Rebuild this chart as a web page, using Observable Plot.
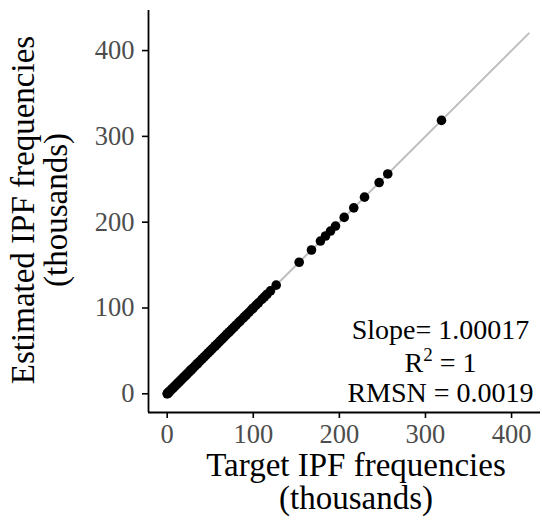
<!DOCTYPE html>
<html>
<head>
<meta charset="utf-8">
<script src="https://cdn.jsdelivr.net/npm/d3@7"></script>
<script src="https://cdn.jsdelivr.net/npm/@observablehq/plot@0.6"></script>
<style>
  html, body { margin: 0; padding: 0; background: #fff; }
  svg text { font-family: 'Liberation Serif', 'Times New Roman', serif !important; }
</style>
</head>
<body>
<div id="chart"></div>
<script>
// Target IPF frequencies (thousands)
const target = [0, 0.3, 0.6, 1, 1.5, 2, 2.5, 3, 4, 5, 6, 7, 8, 9, 10, 11, 12, 13, 14, 15,
  16, 17, 18, 19, 20, 21, 22, 23, 24, 25, 26, 27, 28, 29, 30, 32, 33, 35, 36, 38,
  40, 41, 43, 45, 47, 48, 50, 52, 54, 56, 58, 60, 62, 64, 66, 68, 70, 72, 74, 76,
  78, 80, 83, 85, 88, 90, 92, 95, 98, 100, 103, 106, 110, 113, 116, 120, 126.6,
  153.3, 167.6, 178.0, 183.9, 189.7, 195.5, 205.6, 216.7, 229.2, 246.2, 256.2, 318.6];
// Estimated IPF frequencies (thousands)
const estimated = [0, 0.3, 0.6, 1, 1.5, 2, 2.5, 3, 4, 5, 6, 7, 8, 9, 10, 11, 12, 13, 14, 15,
  16, 17, 18, 19, 20, 21, 22, 23, 24, 25, 26, 27, 28, 29, 30, 32, 33, 35, 36, 38,
  40, 41, 43, 45, 47, 48, 50, 52, 54, 56, 58, 60, 62, 64, 66, 68, 70, 72, 74, 76,
  78, 80, 83, 85, 88, 90, 92, 95, 98, 100, 103, 106, 110, 113, 116, 120, 126.6,
  153.3, 167.6, 178.0, 183.9, 189.7, 195.5, 205.6, 216.7, 229.2, 246.2, 256.2, 318.6];
// identity line endpoints
const lineVals = [0, 420];
const ticks = [0, 100, 200, 300, 400];
const xTitle = ["Target IPF frequencies", "(thousands)"];
const yTitle = ["Estimated IPF frequencies", "(thousands)"];
const annotation = ["Slope= 1.00017", "R2 = 1", "RMSN = 0.0019"];

const points = target.map((t, i) => ({x: t, y: estimated[i]}));
const idLine = lineVals.map(v => ({x: v, y: v}));

const xDomain = [-21.7, 433.6];
const yDomain = [-21.8, 446.7];
const tf = "'Liberation Serif', 'Times New Roman', serif";

const W = 542, H = 529;
const plot = Plot.plot({
  width: W,
  height: H,
  marginLeft: 148,
  marginRight: 2,
  marginTop: 10,
  marginBottom: 117,
  style: {fontFamily: tf, background: "#fff"},
  x: {domain: xDomain, axis: null},
  y: {domain: yDomain, axis: null},
  marks: [
    Plot.line(idLine, {x: "x", y: "y", stroke: "#BEBEBE", strokeWidth: 2}),
    Plot.dot(points, {x: "x", y: "y", r: 4.8, fill: "black", stroke: "none"}),
    Plot.ruleX([xDomain[0]], {stroke: "black", strokeWidth: 1.8}),
    Plot.ruleY([yDomain[0]], {stroke: "black", strokeWidth: 1.8}),
    Plot.axisX(ticks, {anchor: "bottom", tickSize: 6, tickPadding: 6, fontSize: 26.5, fontFamily: tf, color: "#4D4D4D", stroke: "black", strokeWidth: 1.6, label: null}),
    Plot.axisY(ticks, {anchor: "left", tickSize: 6, tickPadding: 8, fontSize: 26.5, fontFamily: tf, color: "#4D4D4D", stroke: "black", strokeWidth: 1.6, label: null}),
    Plot.text([annotation[0]], {frameAnchor: "bottom-right", dx: -100, dy: -73.7, textAnchor: "middle", lineAnchor: "bottom", fontSize: 28, fontFamily: tf, fill: "black"}),
    Plot.text([annotation[1]], {frameAnchor: "bottom-right", dx: -100, dy: -40.3, textAnchor: "middle", lineAnchor: "bottom", fontSize: 28, fontFamily: tf, fill: "black", ariaLabel: "r2"}),
    Plot.text([annotation[2]], {frameAnchor: "bottom-right", dx: -100, dy: -10.3, textAnchor: "middle", lineAnchor: "bottom", fontSize: 28, fontFamily: tf, fill: "black"})
  ]
});

const svg = d3.select(plot);
svg.selectAll("[aria-label='x-axis tick label'] text, [aria-label='y-axis tick label'] text").attr("fill", "#4D4D4D");
// render R2 with a superscript 2
svg.selectAll("text").filter(function() { return this.textContent === annotation[1]; }).each(function() {
  const t = d3.select(this);
  t.text(null);
  t.append("tspan").text("R");
  t.append("tspan").attr("font-size", 19).attr("dy", -11).text("2");
  t.append("tspan").attr("dy", 11).text(" = 1");
});
const xt = svg.append("g").attr("font-family", tf).attr("font-size", 33).attr("fill", "black").attr("text-anchor", "middle");
xt.append("text").attr("x", 356).attr("y", 476).text(xTitle[0]);
xt.append("text").attr("x", 356).attr("y", 509).text(xTitle[1]);
const yt = svg.append("g").attr("font-family", tf).attr("font-size", 33).attr("fill", "black").attr("text-anchor", "middle");
yt.append("text").attr("transform", "translate(34,210) rotate(-90)").text(yTitle[0]);
yt.append("text").attr("transform", "translate(67,210) rotate(-90)").text(yTitle[1]);
svg.selectAll("text").attr("font-family", tf);

document.getElementById("chart").appendChild(plot);
</script>
</body>
</html>
